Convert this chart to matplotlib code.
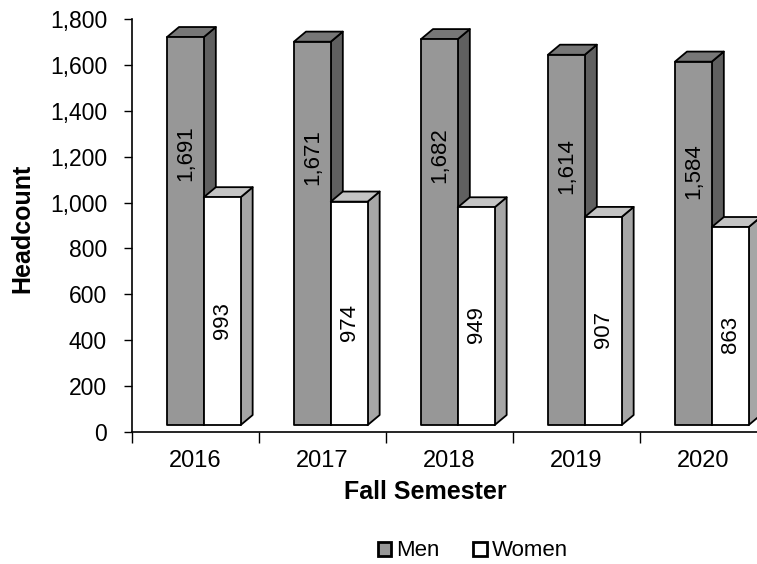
import matplotlib.pyplot as plt
from matplotlib.patches import Polygon, Patch
from matplotlib.ticker import FuncFormatter

plt.rcParams['font.family'] = ['Liberation Sans', 'DejaVu Sans']

# data
years = ['2016', '2017', '2018', '2019', '2020']
men = [1691, 1671, 1682, 1614, 1584]
women = [993, 974, 949, 907, 863]

# 3D look (style constants)
bar_w = 0.29
dx, dy = 0.095, 44      # depth offset in data units
floor = 30              # front face sits slightly above the floor
men_cols = ('#979797', '#777777', '#606060')    # front, top, side
women_cols = ('#ffffff', '#c4c4c4', '#a6a6a6')


def bar3d(ax, x0, h, cols):
    front, top, side = cols
    b, t = floor, floor + h
    x1 = x0 + bar_w
    ax.add_patch(Polygon([(x1, b), (x1 + dx, b + dy), (x1 + dx, t + dy), (x1, t)],
                         closed=True, fc=side, ec='black', lw=1.3, joinstyle='round'))
    ax.add_patch(Polygon([(x0, t), (x0 + dx, t + dy), (x1 + dx, t + dy), (x1, t)],
                         closed=True, fc=top, ec='black', lw=1.3, joinstyle='round'))
    ax.add_patch(Polygon([(x0, b), (x1, b), (x1, t), (x0, t)],
                         closed=True, fc=front, ec='black', lw=1.3, joinstyle='round'))


fig = plt.figure(figsize=(7.57, 5.64), dpi=100)
ax = fig.add_axes([132 / 757, 132 / 564, 635 / 757, 413 / 564])

for i, (m, w) in enumerate(zip(men, women)):
    xm = i + 0.275
    xw = xm + bar_w
    bar3d(ax, xm, m, men_cols)
    bar3d(ax, xw, w, women_cols)
    ax.text(xm + bar_w / 2, floor + m * 0.7, f'{m:,}', rotation=90,
            ha='center', va='center', fontsize=16)
    ax.text(xw + bar_w / 2, floor + w * 0.46, f'{w:,}', rotation=90,
            ha='center', va='center', fontsize=16)

ax.set_xlim(0, 5)
ax.set_ylim(0, 1800)
ax.set_yticks(range(0, 1801, 200))
ax.yaxis.set_major_formatter(FuncFormatter(lambda v, p: f'{int(v):,}'))
ax.set_xticks(range(6))
ax.set_xticklabels([])
for i, y in enumerate(years):
    ax.text(i + 0.5, -0.071, y, transform=ax.get_xaxis_transform(),
            ha='center', va='center', fontsize=17)

ax.tick_params(axis='y', direction='out', length=6, width=1, labelsize=16.5, pad=12)
ax.tick_params(axis='x', direction='out', length=8, width=1)
for s in ('top', 'right'):
    ax.spines[s].set_visible(False)
ax.spines['left'].set_linewidth(1.2)
ax.spines['bottom'].set_linewidth(1.2)

fig.text(22 / 757, 1 - 228 / 564, 'Headcount', rotation=90, ha='center', va='center',
         fontsize=18, fontweight='bold')
fig.text(425 / 757, 1 - 492 / 564, 'Fall Semester', ha='center', va='center',
         fontsize=18, fontweight='bold')

handles = [Patch(fc=men_cols[0], ec='black', lw=2, label='Men'),
           Patch(fc='white', ec='black', lw=2, label='Women')]
fig.legend(handles=handles, loc='center', bbox_to_anchor=(473 / 757, 1 - 551 / 564),
           ncol=2, frameon=False, fontsize=16, handlelength=0.6, handleheight=0.6,
           handletextpad=0.25, columnspacing=1.5, borderpad=0)

fig.savefig('out.png', dpi=100)
